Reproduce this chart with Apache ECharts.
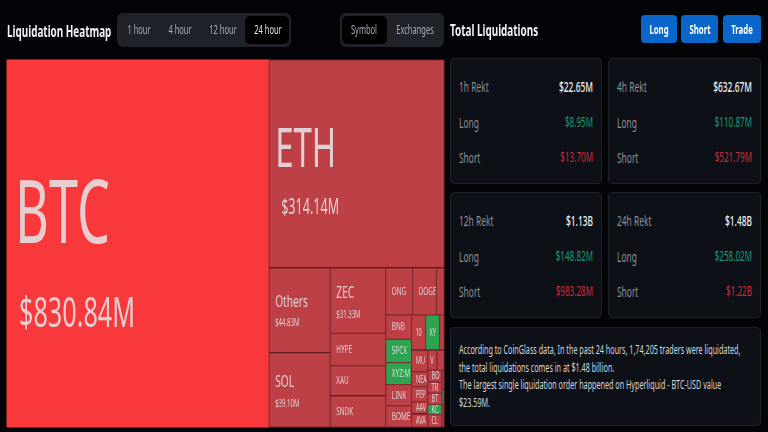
<!DOCTYPE html>
<html>
<head>
<meta charset="utf-8">
<title>Liquidation Heatmap</title>
<script src="https://cdn.jsdelivr.net/npm/echarts@6/dist/echarts.min.js"></script>
<style>
  html, body { margin: 0; padding: 0; width: 768px; height: 432px; overflow: hidden; background: #020408; }
  #chart { position: absolute; left: 0; top: 0; width: 768px; height: 432px; }
  .box { position: absolute; box-sizing: border-box; border-radius: 4px; }
  .card { background: #0d1017; border: 1px solid #1d2128; }
  .tabs { background: #1f2329; border-radius: 6px; }
  .on { background: #000; border-radius: 5px; }
  .btn { background: #0a66c8; border-radius: 4px; }
  .t { position: absolute; white-space: nowrap; line-height: 1; font-family: "Noto Sans", sans-serif; }
</style>
</head>
<body>
<div id="chart"></div>
<script>
  // values in $M, the unlabelled ones are estimated from the tile size
  const symbols = ["BTC", "ETH", "Others", "SOL", "ZEC", "HYPE", "XAU", "SNDK", "ONG", "DOGE", "_a",
    "BNB", "SPCX", "XYZ:M", "LINK", "BOME", "10", "XY", "_b", "MU", "NEA", "PEP", "AAV", "AVA",
    "V", "_c", "BO", "TR", "BT", "KC", "CL", "_d", "_e", "_f"];
  const liquidations = [830.84, 314.14, 44.83, 39.1, 31.33, 15.6, 14.4, 14.9, 10.9, 9.6, 3.1,
    5.4, 5.2, 4.9, 4.7, 4.7, 4.3, 4.3, 1.3, 3.0, 2.1, 2.1, 1.7, 1.8,
    1.6, 1.2, 1.44, 1.38, 1.38, 1.25, 1.5, 0.34, 0.27, 0.39];
  const greenTiles = ["SPCX", "XYZ:M", "XY", "KC", "_e"];
  const darkBottom = ["ETH", "Others", "XAU", "AAV", "10", "XY", "_b"];

  const tileTree = ["h", "BTC",
    ["v", "ETH",
      ["h",
        ["v", "Others", "SOL"],
        ["v", "ZEC", "HYPE", "XAU", "SNDK"],
        ["v",
          ["h", "ONG", "DOGE", "_a"],
          ["h",
            ["v", "BNB", "SPCX", "XYZ:M", "LINK", "BOME"],
            ["v",
              ["h", "10", "XY", "_b"],
              ["h",
                ["v", "MU", "NEA", "PEP", "AAV", "AVA"],
                ["v",
                  ["h", "V", "_c"],
                  ["h", ["v", "BO", "TR", "BT", "KC", "CL"], ["v", "_d", "_e", "_f"]]
                ]
              ]
            ]
          ]
        ]
      ]
    ]
  ];

  // name size, value size, name dy, value dy, name pad, value pad
  const labelStyle = {
    BTC: [87, 42, -25, 72, 8, 12],
    ETH: [55, 21, -13, 44, 6, 12],
    Others: [17, 10, -8, 13, 6, 6],
    SOL: [17, 10, -8, 14, 6, 6],
    ZEC: [17, 10, -8, 14, 6, 6]
  };

  const tabs1 = ["1 hour", "4 hour", "12 hour", "24 hour"];
  const tabs2 = ["Symbol", "Exchanges"];
  const buttons = ["Long", "Short", "Trade"];
  const periods = ["1h Rekt", "4h Rekt", "12h Rekt", "24h Rekt"];
  const totals = ["$22.65M", "$632.67M", "$1.13B", "$1.48B"];
  const longs = ["$8.95M", "$110.87M", "$148.82M", "$258.02M"];
  const shorts = ["$13.70M", "$521.79M", "$983.28M", "$1.22B"];
  const summary = [
    "According to CoinGlass data, In the past 24 hours, 1,74,205 traders were liquidated,",
    "the total liquidations comes in at $1.48 billion.",
    "The largest single liquidation order happened on Hyperliquid - BTC-USD value",
    "$23.59M."
  ];

  const squeeze = 0.6;

  const box = (cls, x, y, w, h) => {
    const d = document.createElement("div");
    d.className = "box " + cls;
    d.style.cssText = `left:${x}px;top:${y}px;width:${w}px;height:${h}px`;
    document.body.appendChild(d);
  };

  // anchor is left, right or center of x
  const text = (str, x, y, size, color, anchor, weight) => {
    const d = document.createElement("div");
    d.className = "t";
    d.textContent = str;
    const shift = anchor === "left" ? "0" : anchor === "right" ? "-100%" : "-50%";
    d.style.cssText = `left:${x}px;top:${y}px;font-size:${size}px;color:${color};font-weight:${weight || 400};` +
      `transform-origin:0 0;transform:scaleX(${squeeze}) translate(${shift},-50%)`;
    document.body.appendChild(d);
  };

  text("Liquidation Heatmap", 7, 31, 16.5, "#f2f3f5", "left", 700);
  box("tabs", 117, 13, 174, 34);
  box("on", 245, 16, 44, 28);
  [139, 180, 223, 268].forEach((x, i) => text(tabs1[i], x, 30, 12.5, i === 3 ? "#e4e6ea" : "#a8adb5", "center"));
  box("tabs", 340, 13, 104, 34);
  box("on", 342, 16, 45, 28);
  [364, 415].forEach((x, i) => text(tabs2[i], x, 30, 12.5, "#a8adb5", "center"));

  text("Total Liquidations", 450, 30, 16.5, "#f2f3f5", "left", 700);
  [[641, 36], [681, 37], [723, 38]].forEach(([x, w], i) => {
    box("btn", x, 15, w, 28);
    text(buttons[i], x + w / 2, 29, 13, "#fff", "center", 700);
  });

  periods.forEach((p, i) => {
    const x = i % 2 ? 608 : 450;
    const w = i % 2 ? 153 : 152;
    const y = i < 2 ? 58 : 192;
    box("card", x, y, w, 126);
    text(p, x + 9, y + 29, 14, "#8b9098", "left");
    text("Long", x + 9, y + 65, 14, "#8b9098", "left");
    text("Short", x + 9, y + 100, 14, "#8b9098", "left");
    text(totals[i], x + w - 9, y + 29, 14, "#eceef0", "right", 500);
    text(longs[i], x + w - 9, y + 65, 13.5, "#1a9a76", "right");
    text(shorts[i], x + w - 9, y + 100, 13.5, "#c82c38", "right");
  });

  box("card", 450, 327, 311, 99);
  summary.forEach((line, i) => text(line, 459, 350 + i * 17.7, 12, "#d4d6da", "left"));

  // tile rectangles come from the values by splitting the tree in 0..1 space
  const valueOf = {};
  symbols.forEach((s, i) => { valueOf[s] = liquidations[i]; });
  const weight = (n) => typeof n === "string" ? valueOf[n] : n.slice(1).reduce((a, k) => a + weight(k), 0);
  const tiles = [];
  const split = (n, x0, x1, y0, y1) => {
    if (typeof n === "string") {
      tiles.push([x0, x1, y0, y1, n]);
      return;
    }
    const total = weight(n);
    let at = n[0] === "h" ? x0 : y0;
    const span = n[0] === "h" ? x1 - x0 : y1 - y0;
    n.slice(1).forEach((k) => {
      const next = at + span * weight(k) / total;
      if (n[0] === "h") split(k, at, next, y0, y1);
      else split(k, x0, x1, at, next);
      at = next;
    });
  };
  split(tileTree, 0, 1, 0, 1);

  const chart = echarts.init(document.getElementById("chart"), null, { renderer: "canvas" });

  const label = (str, x, y, size, sx) => ({
    type: "text",
    x: x,
    y: y,
    scaleX: sx,
    silent: true,
    style: {
      text: str,
      fontSize: size,
      fontFamily: "Noto Sans",
      fill: "#e3dfe2",
      opacity: 0.9,
      textAlign: "left",
      textVerticalAlign: "middle"
    }
  });

  const renderTile = (params, api) => {
    const name = tiles[params.dataIndex][4];
    const a = api.coord([api.value(0), api.value(2)]);
    const b = api.coord([api.value(1), api.value(3)]);
    const w = b[0] - a[0];
    const h = b[1] - a[1];
    const fill = name === "BTC" ? "#f8383a" : greenTiles.includes(name) ? "#2fa450" : "#bc4046";
    const kids = [{
      type: "rect",
      shape: { x: a[0], y: a[1], width: w, height: h },
      style: { fill: fill, stroke: name === "BTC" ? fill : "#7d2a30", lineWidth: 1 }
    }];
    if (darkBottom.includes(name)) {
      kids.push({
        type: "rect",
        shape: { x: a[0], y: b[1] - 0.75, width: w, height: 1.5 },
        style: { fill: "#14060a" }
      });
    }
    if (name[0] !== "_") {
      const st = labelStyle[name];
      const cy = a[1] + h / 2;
      // the small tiles have taller, narrower text, and less padding when very thin
      const texts = st
        ? [label(name, a[0] + st[4], cy + st[2], st[0], squeeze)]
        : [label(name, a[0] + Math.min(6, w * 0.27), cy, 11.5, squeeze * (w < 20 ? 0.8 : 0.92))];
      if (st) {
        const value = "$" + api.value(4).toFixed(2) + "M";
        texts.push(label(value, a[0] + st[5], cy + st[3], st[1], squeeze));
      }
      kids.push({
        type: "group",
        clipPath: { type: "rect", shape: { x: a[0], y: a[1], width: w, height: h } },
        children: texts
      });
    }
    return { type: "group", children: kids };
  };

  chart.setOption({
    animation: false,
    backgroundColor: "transparent",
    grid: { left: 7, top: 60, width: 437, height: 367 },
    xAxis: { type: "value", min: 0, max: 1, show: false },
    yAxis: { type: "value", min: 0, max: 1, inverse: true, show: false },
    series: [{
      type: "custom",
      coordinateSystem: "cartesian2d",
      clip: false,
      renderItem: renderTile,
      encode: { x: [0, 1], y: [2, 3] },
      data: tiles.map((t) => [t[0], t[1], t[2], t[3], valueOf[t[4]]])
    }]
  });
</script>
</body>
</html>
